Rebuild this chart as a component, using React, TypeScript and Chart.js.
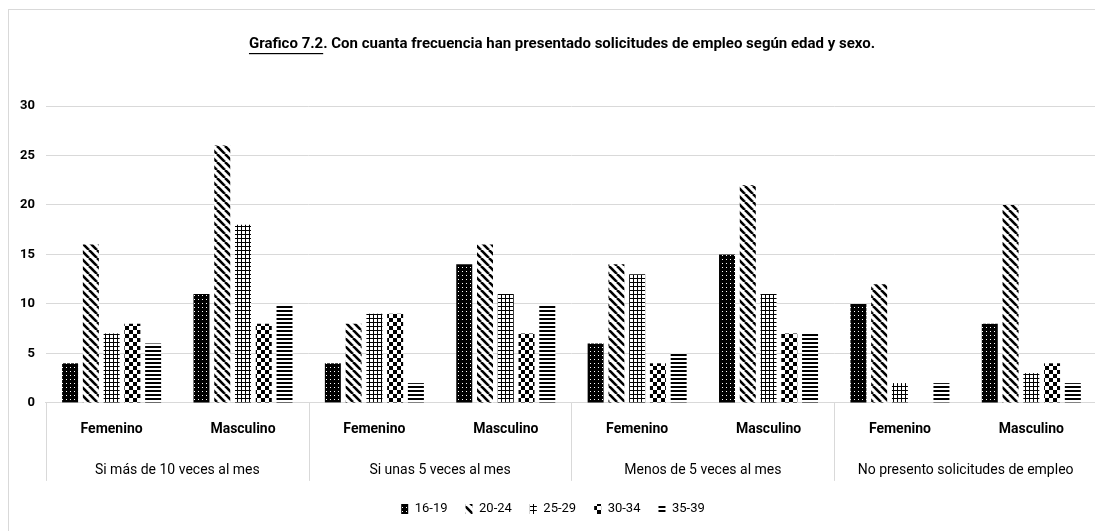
import React, { useEffect, useRef } from "react";
import { Chart, registerables } from "chart.js";

Chart.register(...registerables);

const categories = ["Femenino", "Masculino", "Femenino", "Masculino", "Femenino", "Masculino", "Femenino", "Masculino"];
const groups = ["Si más de 10 veces al mes", "Si unas 5 veces al mes", "Menos de 5 veces al mes", "No presento solicitudes de empleo"];
const seriesLabels = ["16-19", "20-24", "25-29", "30-34", "35-39"];
const s1619 = [4, 11, 4, 14, 6, 15, 10, 8];
const s2024 = [16, 26, 8, 16, 14, 22, 12, 20];
const s2529 = [7, 18, 9, 11, 13, 11, 2, 3];
const s3034 = [8, 8, 9, 7, 4, 7, 0, 4];
const s3539 = [6, 10, 2, 10, 5, 7, 2, 2];
const yTicks = [0, 5, 10, 15, 20, 25, 30];
const titleUnderlined = "Grafico 7.2";
const titleRest = ". Con cuanta frecuencia han presentado solicitudes de empleo según edad y sexo.";

const FONT = "Roboto, 'Liberation Sans', sans-serif";

function makeTile(w: number, h: number, draw: (c: CanvasRenderingContext2D) => void) {
  const t = document.createElement("canvas");
  t.width = w;
  t.height = h;
  const c = t.getContext("2d")!;
  draw(c);
  return t;
}

function makePatterns(ctx: CanvasRenderingContext2D) {
  const dots = makeTile(4, 4, (c) => {
    c.fillStyle = "#000";
    c.fillRect(0, 0, 4, 4);
    c.fillStyle = "#fff";
    c.fillRect(1, 1, 1, 1);
  });
  const diag = makeTile(8, 8, (c) => {
    c.fillStyle = "#fff";
    c.fillRect(0, 0, 8, 8);
    c.strokeStyle = "#000";
    c.lineWidth = 2.6;
    for (let k = -16; k <= 16; k += 8) {
      c.beginPath();
      c.moveTo(k, 0);
      c.lineTo(k + 8, 8);
      c.stroke();
    }
  });
  const grid = makeTile(4, 4, (c) => {
    c.fillStyle = "#fff";
    c.fillRect(0, 0, 4, 4);
    c.fillStyle = "#000";
    c.fillRect(0, 0, 4, 1);
    c.fillRect(0, 0, 1, 4);
  });
  const check = makeTile(8, 8, (c) => {
    c.fillStyle = "#fff";
    c.fillRect(0, 0, 8, 8);
    c.fillStyle = "#000";
    c.fillRect(0, 0, 4, 4);
    c.fillRect(4, 4, 4, 4);
  });
  const horiz = makeTile(4, 4, (c) => {
    c.fillStyle = "#fff";
    c.fillRect(0, 0, 4, 4);
    c.fillStyle = "#000";
    c.fillRect(0, 0, 4, 2);
  });
  return [dots, diag, grid, check, horiz].map((t) => ctx.createPattern(t, "repeat")!);
}

const titlePlugin = {
  id: "customTitle",
  afterDraw(chart: any) {
    const c: CanvasRenderingContext2D = chart.ctx;
    c.save();
    c.font = `bold 15px ${FONT}`;
    c.fillStyle = "#000";
    c.textBaseline = "middle";
    c.textAlign = "left";
    const w1 = c.measureText(titleUnderlined).width;
    const w2 = c.measureText(titleRest).width;
    const cx = 553;
    const y = 34;
    const x0 = cx - (w1 + w2) / 2;
    c.fillText(titleUnderlined, x0, y);
    c.fillText(titleRest, x0 + w1, y);
    c.fillRect(x0, y + 9, w1, 1.2);
    c.restore();
  },
};

const separatorPlugin = {
  id: "groupSeparators",
  afterDraw(chart: any) {
    const c: CanvasRenderingContext2D = chart.ctx;
    const xs = chart.scales.x;
    const area = chart.chartArea;
    c.save();
    c.strokeStyle = "#d9d9d9";
    c.lineWidth = 1;
    const n = categories.length;
    for (let k = 0; k <= n; k += 2) {
      let x: number;
      if (k === 0) x = area.left;
      else if (k === n) x = area.right;
      else x = (xs.getPixelForValue(k - 1) + xs.getPixelForValue(k)) / 2;
      x = Math.round(x) + 0.5;
      c.beginPath();
      c.moveTo(x, area.bottom);
      c.lineTo(x, area.bottom + 78);
      c.stroke();
    }
    c.restore();
  },
};

export default function App() {
  const ref = useRef<HTMLCanvasElement | null>(null);
  useEffect(() => {
    document.body.style.overflow = "hidden";
    document.documentElement.style.overflow = "hidden";
    const canvas = ref.current!;
    const ctx = canvas.getContext("2d")!;
    const patterns = makePatterns(ctx);
    const seriesData = [s1619, s2024, s2529, s3034, s3539];
    const chart = new Chart(ctx, {
      type: "bar",
      data: {
        labels: categories,
        datasets: seriesData.map((d, i) => ({
          label: seriesLabels[i],
          data: d,
          backgroundColor: patterns[i],
          borderWidth: 0,
          barPercentage: 0.77,
          categoryPercentage: 0.79,
          xAxisID: "x",
        })),
      },
      options: {
        responsive: false,
        animation: false,
        layout: { padding: { left: 0, right: 8, top: 96, bottom: 9.5 } },
        plugins: {
          title: { display: false },
          tooltip: { enabled: false },
          legend: {
            position: "bottom",
            labels: {
              boxWidth: 7,
              boxHeight: 10,
              padding: 18,
              color: "#000",
              font: { family: FONT, size: 13 },
            },
          },
        },
        scales: {
          x: {
            type: "category",
            position: "bottom",
            offset: true,
            grid: { display: false, drawTicks: false },
            border: { display: true, color: "#d9d9d9" },
            ticks: { color: "#000", padding: 18, font: { family: FONT, size: 14, weight: "bold" } },
          },
          x2: {
            type: "category",
            position: "bottom",
            labels: groups,
            offset: true,
            grid: { display: false, drawTicks: false },
            border: { display: false },
            ticks: { color: "#000", padding: 6, font: { family: FONT, size: 14 } },
          },
          y: {
            min: 0,
            max: 30,
            afterBuildTicks: (axis: any) => {
              axis.ticks = yTicks.map((v) => ({ value: v }));
            },
            grid: { color: "#d9d9d9", drawTicks: false },
            border: { display: false },
            ticks: { color: "#000", padding: 11, font: { family: FONT, size: 13, weight: "bold" } },
          },
        },
      } as any,
      plugins: [titlePlugin, separatorPlugin],
    });
    return () => chart.destroy();
  }, []);
  return (
    <div
      style={{
        border: "1px solid #d9d9d9",
        marginTop: 1,
        width: 1096,
        height: 530,
        boxSizing: "content-box",
        background: "#fff",
      }}
    >
      <canvas ref={ref} width={1096} height={525} style={{ display: "block" }} />
    </div>
  );
}
